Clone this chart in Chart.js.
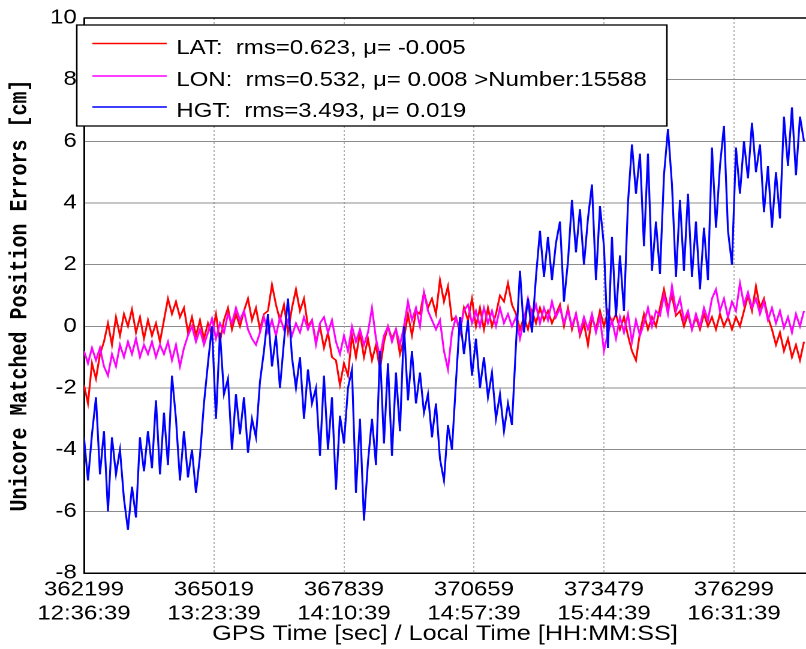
<!DOCTYPE html>
<html>
<head>
<meta charset="utf-8">
<script src="https://cdn.jsdelivr.net/npm/chart.js@4.4.0/dist/chart.umd.min.js"></script>
<style>
  html, body { margin: 0; padding: 0; background: #fff; }
  #errChart { display: block; }
</style>
</head>
<body>
<!-- the original figure is stretched sideways, so the canvas is drawn narrow and widened by css -->
<canvas id="errChart" width="672" height="649" style="width:806px;height:649px"></canvas>
<script>
const startSec = 362199;
const stepSec = 86.77;

// LAT error [cm]
const latErr = [
  -1.9, -2.5, -1.2, -1.7, -0.9, -0.5, 0.1, -0.6, 0.3, -0.3,
  0.4, 0.0, 0.55, -0.2, 0.3, -0.4, 0.2, -0.3, 0.1, -0.5,
  0.2, 0.9, 0.4, 0.8, 0.3, 0.6, -0.2, 0.3, -0.3, 0.2,
  -0.4, 0.1, -0.3, 0.4, -0.5, 0.2, 0.6, -0.1, 0.4, 0.0,
  0.5, 0.9, 0.2, 0.6, -0.1, 0.4, 0.5, 1.35, 0.7, 0.2,
  0.7, -0.2, 0.6, 1.2, 0.5, 0.9, 0.0, 0.2, -0.5, 0.0,
  -0.7, -0.2, -1.0, -1.1, -1.9, -1.2, -1.6, -0.3, -1.0, -0.2,
  -1.0, -0.4, -1.1, -0.6, -1.4, -0.5, 0.0, -0.4, -0.1, -0.9,
  -0.4, 0.4, -0.3, 0.5, 0.4, 1.1, 0.6, 0.9, 0.4, 1.5,
  0.8, 1.3, 0.2, 0.3, -0.2, 0.6, 0.2, 0.9, 0.0, 0.6,
  -0.1, 0.6, 0.0, 0.4, 1.0, 0.8, 1.4, 0.7, 0.4, -0.1,
  0.3, -0.1, 0.5, 0.1, 0.6, 0.2, 0.5, 0.1, 0.4, 0.7,
  0.0, 0.6, -0.1, 0.4, -0.3, 0.1, -0.6, 0.3, -0.1, 0.5,
  0.0, 0.5, 0.1, 0.4, -0.1, 0.3, -0.3, -0.8, -1.1, -0.2,
  0.4, -0.1, 0.3, 0.0, 0.6, 1.2, 0.6, 1.0, 0.35, 0.5,
  0.0, 0.4, -0.1, 0.3, -0.1, 0.4, 0.0, 0.3, -0.1, 0.4,
  0.0, 0.3, -0.1, 0.3, 0.0, 0.5, 1.0, 0.5, 1.3, 0.6,
  0.9, 0.3, -0.1, -0.6, -0.2, -0.8, -0.4, -1.0, -0.6, -1.1,
  -0.5
];

// LON error [cm]
const lonErr = [
  -0.8, -1.2, -0.7, -1.1, -0.7, -1.3, -1.6, -0.9, -1.3, -0.6,
  -1.0, -0.5, -0.9, -0.4, -1.0, -0.6, -0.9, -0.5, -1.0, -0.6,
  -0.9, -0.5, -1.1, -0.6, -1.3, -0.7, -0.3, 0.0, -0.5, -0.1,
  -0.6, -0.2, 0.25, -0.4, 0.1, -0.2, 0.4, 0.1, 0.6, 0.2,
  0.5, -0.1, -0.4, -0.6, -0.2, 0.3, -0.2, 0.2, -0.3, 0.3,
  -0.1, 0.2, -0.3, 0.1, -0.2, 0.3, -0.1, 0.2, -0.6, 0.1,
  0.3, -0.2, 0.2, -0.5, -0.9, -0.3, -0.8, 0.0, -0.5, -0.1,
  -0.6, -0.2, 0.6, -0.4, -1.0, -0.3, 0.0, -0.5, -0.1, -0.6,
  0.0, 0.8, 0.2, 0.6, 0.0, 1.1, 0.5, 0.2, -0.1, 0.2,
  -0.8, -1.4, -0.2, 0.3, -0.1, 0.5, 0.7, 0.1, 0.5, 0.0,
  0.6, 0.1, 0.5, 0.0, 0.6, 0.1, 0.4, 0.0, 0.3, -0.4,
  0.2, 0.9, 0.3, 0.7, 0.1, 0.6, 0.2, 0.8, 0.3, 0.6,
  0.1, 0.5, 0.0, 0.4, -0.2, 0.3, -0.1, 0.4, -0.2, 0.3,
  -0.8, -0.2, 0.2, -0.4, 0.3, -0.2, 0.4, -0.5, 0.2, -0.3,
  0.1, 0.6, 0.0, 0.5, 0.35, 1.0, 0.4, 1.3, 0.5, 0.9,
  0.2, 0.5, -0.1, 0.4, 0.0, 0.6, 0.2, 0.9, 1.2, 0.5,
  0.9, 0.3, 0.8, 0.5, 1.4, 0.7, 1.1, 0.6, 0.9, 0.4,
  0.8, 0.2, 0.6, 0.1, 0.5, -0.05, 0.3, -0.2, 0.4, 0.0,
  0.5
];

// HGT error [cm]
const hgtErr = [
  -3.6, -5.0, -3.5, -2.3, -4.8, -3.4, -6.0, -3.6, -4.8, -4.0,
  -5.6, -6.6, -5.2, -6.2, -3.6, -4.7, -3.4, -4.6, -2.4, -4.8,
  -2.8, -4.5, -1.6, -3.0, -5.0, -3.4, -4.9, -4.0, -5.4, -4.2,
  -2.5, -1.2, 0.0, -3.0, -0.2, -2.2, -1.7, -4.0, -2.2, -3.5,
  -2.3, -4.1, -3.0, -3.6, -1.8, -0.8, 0.4, -1.3, -0.3, -2.0,
  -0.5, 0.9, -1.0, -2.0, -1.0, -3.0, -1.4, -2.5, -2.0, -4.2,
  -1.6, -4.0, -2.3, -5.3, -2.9, -3.8, -2.0, -1.4, -5.4, -3.0,
  -6.3, -4.4, -3.0, -4.5, -0.8, -3.8, -1.2, -4.2, -1.5, -3.4,
  0.0, -2.4, -0.8, -2.5, -1.5, -2.8, -2.2, -3.6, -2.5, -4.3,
  -5.0, -3.2, -4.0, -1.8, 0.3, -0.9, 0.2, -1.6, -0.4, -2.0,
  -1.0, -2.3, -1.5, -3.0, -2.2, -3.4, -2.5, -3.2, -0.6, 1.8,
  -0.2, 0.9, -0.2, 1.6, 3.1, 1.6, 2.9, 1.5, 2.7, 3.4,
  0.8, 2.1, 4.1, 2.4, 3.8, 2.0, 3.5, 4.6, 1.5, 3.9,
  2.6, -0.7, 2.9, 0.3, 2.3, 0.5, 4.0, 5.9, 4.3, 5.6,
  2.6, 5.6, 1.8, 3.4, 1.7, 4.9, 6.4, 4.6, 1.6, 4.1,
  1.8, 4.3, 1.6, 3.4, 1.2, 3.2, 1.5, 5.8, 3.2, 5.2,
  6.5, 3.1, 2.0, 5.8, 4.3, 6.0, 4.8, 6.6, 5.0, 5.9,
  3.7, 5.2, 3.2, 5.0, 3.5, 6.8, 5.2, 7.1, 4.9, 6.8,
  6.0
];

const seriesNames = ['LAT', 'LON', 'HGT'];
const legendTexts = [
  'LAT:  rms=0.623, \u03bc= -0.005',
  'LON:  rms=0.532, \u03bc= 0.008 >Number:15588',
  'HGT:  rms=3.493, \u03bc= 0.019'
];

const xTickSecs = [362199, 365019, 367839, 370659, 373479, 376299];
const xTickClock = ['12:36:39', '13:23:39', '14:10:39', '14:57:39', '15:44:39', '16:31:39'];

function toPoints(vals) {
  return vals.map((v, i) => ({ x: startSec + i * stepSec, y: v }));
}

const sansFont = { family: '"Liberation Sans", Arial, sans-serif', size: 20 };

// matlab style legend box sitting over the upper left of the axes
const boxLegend = {
  id: 'boxLegend',
  afterDatasetsDraw(chart) {
    const ctx = chart.ctx;
    const area = chart.chartArea;
    ctx.save();
    // top frame line
    ctx.strokeStyle = '#000';
    ctx.lineWidth = 1.5;
    ctx.beginPath();
    ctx.moveTo(area.left, area.top);
    ctx.lineTo(area.right, area.top);
    ctx.stroke();

    const bx = area.left - 6, by = 25, bw = 492, bh = 101;
    ctx.fillStyle = '#fff';
    ctx.fillRect(bx, by, bw, bh);
    ctx.strokeStyle = '#000';
    ctx.lineWidth = 1.3;
    ctx.strokeRect(bx, by, bw, bh);

    const lineY = [43.5, 76, 107];
    const textY = [54, 86, 117];
    ctx.font = '20px "Liberation Sans", Arial, sans-serif';
    ctx.textBaseline = 'alphabetic';
    ctx.textAlign = 'left';
    chart.data.datasets.forEach((ds, i) => {
      ctx.strokeStyle = ds.borderColor;
      ctx.lineWidth = 1.5;
      ctx.beginPath();
      ctx.moveTo(bx + 13, lineY[i]);
      ctx.lineTo(bx + 75, lineY[i]);
      ctx.stroke();
      ctx.fillStyle = '#000';
      ctx.fillText(legendTexts[i], bx + 83, textY[i]);
    });
    ctx.restore();
  }
};

new Chart(document.getElementById('errChart'), {
  type: 'line',
  data: {
    datasets: [
      { label: seriesNames[0], data: toPoints(latErr), borderColor: '#ff0000', order: 3 },
      { label: seriesNames[1], data: toPoints(lonErr), borderColor: '#ff00ff', order: 2 },
      { label: seriesNames[2], data: toPoints(hgtErr), borderColor: '#0000ff', order: 1 }
    ]
  },
  options: {
    responsive: false,
    animation: false,
    devicePixelRatio: 2,
    layout: { padding: { top: 15, right: 0, bottom: 0, left: 0 } },
    elements: {
      point: { radius: 0 },
      line: { borderWidth: 1.6, tension: 0, fill: false }
    },
    plugins: {
      legend: { display: false },
      tooltip: { enabled: false }
    },
    scales: {
      x: {
        type: 'linear',
        min: 362199,
        max: 377862,
        afterBuildTicks: (scale) => { scale.ticks = xTickSecs.map(v => ({ value: v })); },
        afterFit: (scale) => { scale.height = 76; },
        ticks: {
          autoSkip: false,
          maxRotation: 0,
          padding: 5,
          color: '#000',
          font: sansFont,
          callback: (v) => [String(v), xTickClock[xTickSecs.indexOf(v)]]
        },
        grid: { color: '#b0b0b0', drawTicks: false },
        border: { color: '#000', width: 1.5, dash: [2, 2] },
        title: {
          display: true,
          text: 'GPS Time [sec] / Local Time [HH:MM:SS]',
          color: '#000',
          font: { family: '"Liberation Sans", Arial, sans-serif', size: 21 },
          padding: { top: 0, bottom: 2 }
        }
      },
      y: {
        min: -8,
        max: 10,
        afterFit: (scale) => { scale.width = 70; },
        ticks: { stepSize: 2, padding: 6, color: '#000', font: sansFont },
        grid: { color: '#8c8c8c', drawTicks: false },
        border: { color: '#000', width: 1.5 },
        title: {
          display: true,
          text: 'Unicore Matched Position Errors [cm]',
          color: '#000',
          font: { family: '"Liberation Mono", "DejaVu Sans Mono", monospace', size: 20, weight: 'bold' },
          padding: { top: 5, bottom: 0 }
        }
      }
    }
  },
  plugins: [boxLegend]
});
</script>
</body>
</html>
